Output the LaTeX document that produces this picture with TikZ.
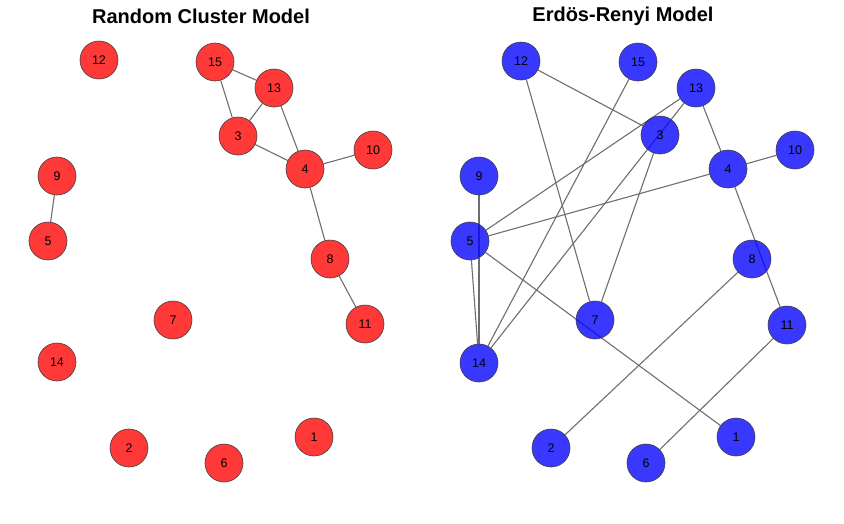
\documentclass[tikz,border=0pt]{standalone}
\usepackage{fontspec}
\setmainfont{Liberation Sans}
\usetikzlibrary{backgrounds}

\definecolor{clusterred}{RGB}{255,0,0}
\definecolor{erdosblue}{RGB}{0,0,255}
\definecolor{edgegray}{RGB}{110,110,110}

\tikzset{
  vertex/.style={circle, minimum size=38pt, inner sep=0pt, draw=black!75, line width=0.6pt,
    fill opacity=0.78, text opacity=1, font=\fontsize{12.5}{14}\selectfont},
  redvertex/.style={vertex, fill=clusterred},
  bluevertex/.style={vertex, fill=erdosblue},
  link/.style={draw=edgegray, line width=1.1pt},
  heading/.style={font=\fontsize{20}{24}\selectfont\bfseries}
}

\begin{document}
\begin{tikzpicture}[x=1pt, y=-1pt]
  \useasboundingbox (0,0) rectangle (844,523);

  % titles
  \node[heading] (tleft) at (201,16) {Random Cluster Model};
  \node[heading] (tright) at (623,16) {Erdös-Renyi Model};

  % random cluster model
  \node[redvertex] (r1) at (314,437) {1};
  \node[redvertex] (r2) at (129,448) {2};
  \node[redvertex] (r3) at (238,136) {3};
  \node[redvertex] (r4) at (305,169) {4};
  \node[redvertex] (r5) at (48,241) {5};
  \node[redvertex] (r6) at (224,463) {6};
  \node[redvertex] (r7) at (173,320) {7};
  \node[redvertex] (r8) at (330,259) {8};
  \node[redvertex] (r9) at (57,176) {9};
  \node[redvertex] (r10) at (373,150) {10};
  \node[redvertex] (r11) at (365,324) {11};
  \node[redvertex] (r12) at (99,60) {12};
  \node[redvertex] (r13) at (274,88) {13};
  \node[redvertex] (r14) at (57,362) {14};
  \node[redvertex] (r15) at (215,62) {15};

  % erdos-renyi model
  \node[bluevertex] (e1) at (736,437) {1};
  \node[bluevertex] (e2) at (551,448) {2};
  \node[bluevertex] (e3) at (660,135) {3};
  \node[bluevertex] (e4) at (728,169) {4};
  \node[bluevertex] (e5) at (470,241) {5};
  \node[bluevertex] (e6) at (646,463) {6};
  \node[bluevertex] (e7) at (595,320) {7};
  \node[bluevertex] (e8) at (752,259) {8};
  \node[bluevertex] (e9) at (479,176) {9};
  \node[bluevertex] (e10) at (795,150) {10};
  \node[bluevertex] (e11) at (787,325) {11};
  \node[bluevertex] (e12) at (521,61) {12};
  \node[bluevertex] (e13) at (696,88) {13};
  \node[bluevertex] (e14) at (479,363) {14};
  \node[bluevertex] (e15) at (638,62) {15};

  % edges behind the vertices
  \begin{scope}[on background layer]
    \draw[link] (r15) -- (r13);
    \draw[link] (r15) -- (r3);
    \draw[link] (r13) -- (r3);
    \draw[link] (r13) -- (r4);
    \draw[link] (r3) -- (r4);
    \draw[link] (r4) -- (r10);
    \draw[link] (r4) -- (r8);
    \draw[link] (r8) -- (r11);
    \draw[link] (r9) -- (r5);

    \draw[link] (e12) -- (e3);
    \draw[link] (e12) -- (e7);
    \draw[link] (e15) -- (e14);
    \draw[link] (e13) -- (e5);
    \draw[link] (e13) -- (e14);
    \draw[link] (e13) -- (e4);
    \draw[link] (e3) -- (e7);
    \draw[link] (e4) -- (e5);
    \draw[link] (e4) -- (e10);
    \draw[link] (e4) -- (e11);
    \draw[link] (e9) -- (e14);
    \draw[link] (e5) -- (e14);
    \draw[link] (e5) -- (e1);
    \draw[link] (e8) -- (e2);
    \draw[link] (e11) -- (e6);
  \end{scope}
\end{tikzpicture}
\end{document}
